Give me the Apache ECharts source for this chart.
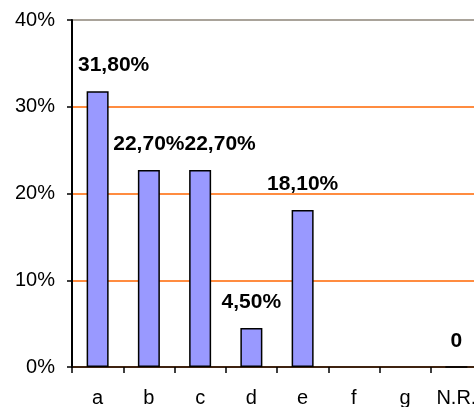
<!DOCTYPE html>
<html>
<head>
<meta charset="utf-8">
<script src="https://cdn.jsdelivr.net/npm/echarts@6/dist/echarts.min.js"></script>
<style>
  html, body { margin: 0; padding: 0; background: #ffffff; }
  #chart { width: 474px; height: 407px; }
</style>
</head>
<body>
<div id="chart"></div>
<script>
// Answer categories and their shares (percent); f and g have no answers recorded
const categories = ['a', 'b', 'c', 'd', 'e', 'f', 'g', 'N.R.'];
const shares = [31.8, 22.7, 22.7, 4.5, 18.1, null, null, 0];
const yTicks = [0, 10, 20, 30, 40];

// Horizontal nudges for labels that sit beside the axis or next to a neighbour
const labelShift = { a: 16, c: 20 };

const FONT = '"Liberation Sans", Arial, sans-serif';

function fmtShare(v) {
  if (v === 0) return '0';
  return v.toFixed(2).replace('.', ',') + '%';
}

const barData = shares.map((v, i) => {
  const item = { value: v === null ? '-' : v };
  const dx = labelShift[categories[i]];
  if (dx) item.label = { offset: [dx, 0] };
  return item;
});

const chart = echarts.init(document.getElementById('chart'), null, { renderer: 'canvas' });
chart.setOption({
  animation: false,
  backgroundColor: '#ffffff',
  // plot area runs slightly past the right edge of the canvas
  grid: { left: 72, top: 20, right: -8, bottom: 40, containLabel: false, outerBoundsMode: 'none' },
  xAxis: {
    type: 'category',
    data: categories,
    boundaryGap: true,
    axisLine: { lineStyle: { color: '#000000', width: 1.5 } },
    axisTick: { show: true, length: 6, interval: 0, alignWithLabel: false, lineStyle: { color: '#000000', width: 1.5 } },
    axisLabel: { color: '#000000', fontFamily: FONT, fontSize: 20, margin: 21, interval: 0 },
    splitLine: { show: false }
  },
  yAxis: {
    type: 'value',
    min: yTicks[0],
    max: yTicks[yTicks.length - 1],
    interval: yTicks[1] - yTicks[0],
    axisLine: { show: true, lineStyle: { color: '#000000', width: 2 } },
    axisTick: { show: true, length: 5, inside: false, lineStyle: { color: '#000000', width: 1.5 } },
    axisLabel: { color: '#000000', fontFamily: FONT, fontSize: 20, margin: 17, formatter: '{value}%' },
    splitLine: {
      show: true,
      lineStyle: { color: ['#ff6600', '#ff6600', '#ff6600', '#ff6600', '#8c8478'], width: 1.5 }
    }
  },
  series: [{
    type: 'bar',
    data: barData,
    barWidth: 22,
    itemStyle: { color: '#9999ff', borderColor: '#000000', borderWidth: 1.5 },
    label: {
      show: true,
      position: 'top',
      distance: 15,
      color: '#000000',
      fontFamily: FONT,
      fontSize: 21,
      fontWeight: 'bold',
      formatter: p => fmtShare(p.value)
    }
  }]
});
</script>
</body>
</html>
